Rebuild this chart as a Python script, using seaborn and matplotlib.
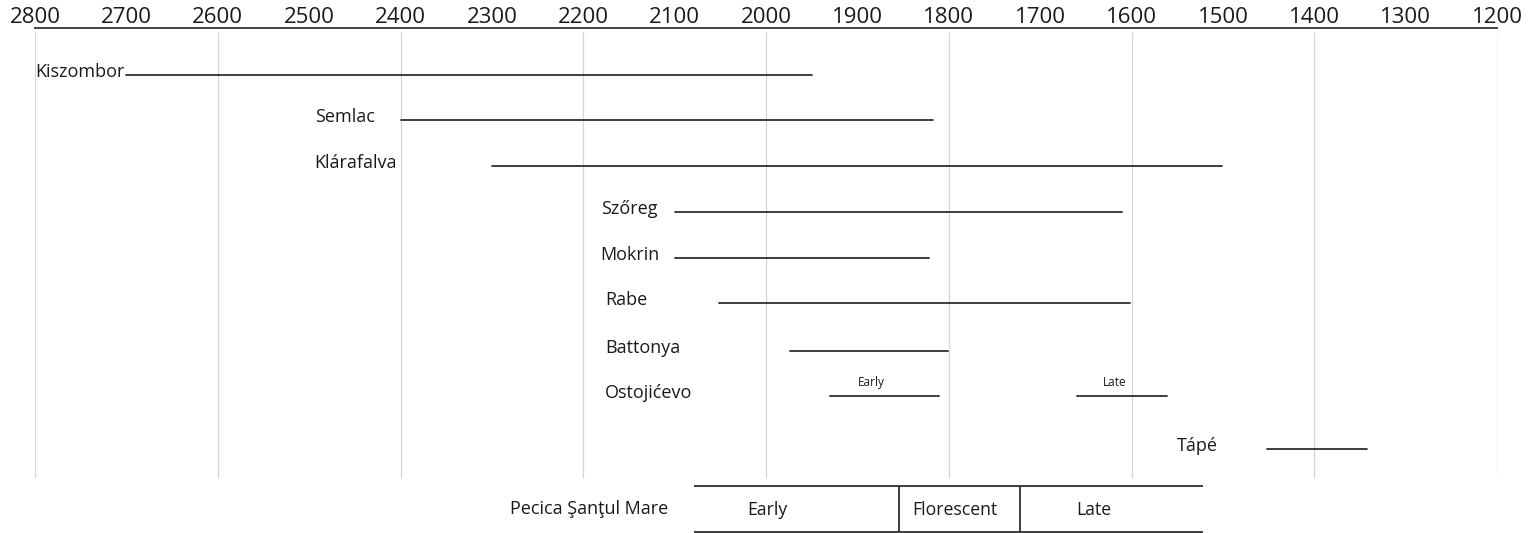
import pandas as pd
import numpy as np
import matplotlib.pyplot as plt
import seaborn as sns

# site ranges (years BC)
sites = ['Kiszombor', 'Semlac', 'Klárafalva', 'Szőreg', 'Mokrin', 'Rabe',
         'Battonya', 'Ostojićevo', 'Ostojićevo', 'Tápé']
starts = [2700, 2400, 2300, 2100, 2100, 2051, 1974, 1930, 1660, 1452]
ends = [1950, 1817, 1501, 1610, 1822, 1602, 1801, 1811, 1561, 1342]
seg_notes = ['', '', '', '', '', '', '', 'Early', 'Late', '']

# Pecica Santul Mare phases
phases = ['Early', 'Florescent', 'Late']
phase_bounds = [2079, 1854, 1722, 1522]

ticks = list(range(2800, 1100, -100))
grid_years = list(range(2800, 1100, -200))

# layout (pixel rows from the top, label anchors in years)
rows = [75, 120, 166, 212, 258, 303, 351, 396, 396, 449]
label_x = [2800, 2494, 2494, 2181, 2181, 2176, 2176, 2176, None, 1550]
note_x = [None] * 7 + [1899, 1631, None]
phase_label_x = [2020, 1840, 1661]

sns.set_style('white')
plt.rcParams['font.family'] = ['Open Sans', 'DejaVu Sans']

fig = plt.figure(figsize=(15.28, 5.33), dpi=100)
ax = fig.add_axes([35 / 1528, 0, 1462 / 1528, (533 - 28) / 533])

# long form: two points per segment
df = pd.DataFrame({
    'seg': np.repeat(np.arange(len(sites)), 2),
    'year': np.ravel(np.column_stack([starts, ends])),
    'row': np.repeat(rows, 2),
})
sns.lineplot(data=df, x='year', y='row', units='seg', estimator=None,
             color='#2e2e2e', lw=1.3, legend=False, ax=ax, sort=False)

ax.vlines(grid_years, 32, 478, color='#d4d4d4', lw=0.9, zorder=0)

for name, lx, r in zip(sites, label_x, rows):
    if lx is not None:
        ax.text(lx, r + 2, name, fontsize=13, ha='left', va='baseline',
                color='#1a1a1a')
for note, nx, r in zip(seg_notes, note_x, rows):
    if nx is not None:
        ax.text(nx, r - 10, note, fontsize=8.5, ha='left', va='baseline',
                color='#1a1a1a')

# Pecica box
ax.hlines([486, 532], phase_bounds[0], phase_bounds[-1], color='#2e2e2e',
          lw=1.3, clip_on=False)
ax.vlines(phase_bounds[1:-1], 486, 532, color='#2e2e2e', lw=1.3,
          clip_on=False)
for ph, px in zip(phases, phase_label_x):
    ax.text(px, 515, ph, fontsize=12.7, ha='left', va='baseline',
            color='#1a1a1a')
ax.text(2280, 514, 'Pecica Şanţul Mare', fontsize=13, ha='left',
        va='baseline', color='#1a1a1a')

ax.set_xlim(2800, 1200)
ax.set_ylim(533, 28)
ax.set_xticks(ticks)
ax.set_xticklabels([str(t) for t in ticks])
ax.xaxis.tick_top()
ax.tick_params(axis='x', length=0, pad=0, labelsize=16, colors='#1a1a1a')
ax.set_yticks([])
ax.set_xlabel('')
ax.set_ylabel('')
for side in ['left', 'right', 'bottom']:
    ax.spines[side].set_visible(False)
ax.spines['top'].set_color('#444444')
ax.spines['top'].set_linewidth(1.4)

fig.savefig('out.png', dpi=100)
